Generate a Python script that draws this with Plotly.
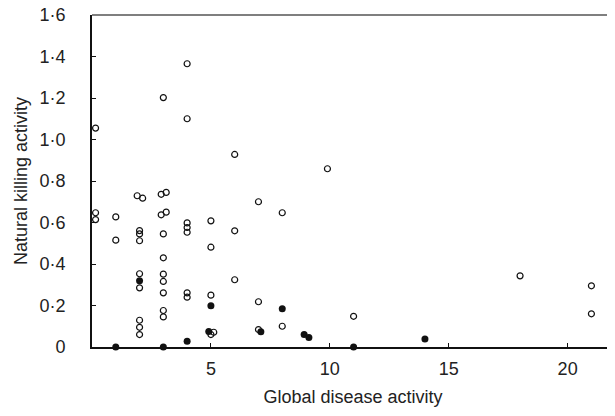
import plotly.graph_objects as go

# Open circles
open_x = [0.15, 0.15, 0.15,
          1, 1,
          1.9, 2.13, 2, 2, 2, 2, 2, 2, 2, 2,
          2.91, 3.12, 2.91, 3.12, 3, 3, 3, 3, 3, 3, 3, 3,
          4, 4, 4, 4, 4, 4, 4,
          5, 5, 5, 5, 5.12,
          6, 6, 6,
          7, 7, 7,
          8, 8,
          9.9, 11, 18, 21, 21]
open_y = [1.055, 0.647, 0.614,
          0.627, 0.515,
          0.729, 0.717, 0.561, 0.545, 0.512, 0.353, 0.285, 0.129, 0.095, 0.060,
          0.736, 0.745, 0.637, 0.650, 0.545, 0.430, 0.351, 0.316, 0.261, 0.176, 0.145, 1.202,
          1.365, 1.10, 0.598, 0.576, 0.553, 0.261, 0.240,
          0.608, 0.481, 0.250, 0.060, 0.071,
          0.928, 0.560, 0.324,
          0.70, 0.218, 0.084,
          0.647, 0.10,
          0.859, 0.148, 0.343, 0.295, 0.160]

# Filled circles
fill_x = [1, 2, 3, 4, 5, 4.91, 7.1, 8, 8.92, 9.12, 11, 14]
fill_y = [0.0, 0.319, 0.0, 0.028, 0.199, 0.075, 0.073, 0.184, 0.060, 0.046, 0.0, 0.038]

y_ticks = [0, 0.2, 0.4, 0.6, 0.8, 1.0, 1.2, 1.4, 1.6]
y_labels = ["0", "0·2", "0·4", "0·6", "0·8",
            "1·0", "1·2", "1·4", "1·6"]
x_ticks = [5, 10, 15, 20]
x_labels = ["5", "10", "15", "20"]
x_title = "Global disease activity"
y_title = "Natural killing activity"

fig = go.Figure()
fig.add_trace(go.Scatter(x=open_x, y=open_y, mode="markers",
                         marker=dict(symbol="circle-open", size=6, color="#111",
                                     line=dict(width=1.2, color="#111")),
                         cliponaxis=False, showlegend=False))
fig.add_trace(go.Scatter(x=fill_x, y=fill_y, mode="markers",
                         marker=dict(symbol="circle", size=7, color="#111"),
                         cliponaxis=False, showlegend=False))

# page body has an 8px margin, so the figure is offset by 8px
fig.update_layout(
    width=607, height=408,
    margin=dict(l=84, r=1, t=7, b=69),
    paper_bgcolor="white", plot_bgcolor="white",
    font=dict(family="Liberation Sans, Arial, sans-serif", size=18, color="#222"),
    xaxis=dict(range=[0, 21.95], tickvals=x_ticks, ticktext=x_labels,
               showgrid=False, zeroline=False, showline=True, linecolor="#111",
               linewidth=1.5, ticks="inside", ticklen=4, tickcolor="#111",
               automargin=False, ticklabeloverflow="allow",
               ticklabelstandoff=5,
               title=dict(text=x_title, standoff=12, font=dict(size=18)),
               tickfont=dict(size=18)),
    yaxis=dict(range=[0, 1.6], tickvals=y_ticks, ticktext=y_labels,
               showgrid=False, zeroline=False, showline=True, linecolor="#111",
               linewidth=2, ticks="inside", ticklen=4, tickcolor="#111",
               ticklabelstandoff=21, automargin=False, ticklabeloverflow="allow",
               tickfont=dict(size=18)),
    annotations=[dict(text=y_title, xref="paper", yref="paper", x=0, y=0.5,
                      xshift=-71, textangle=-90, showarrow=False,
                      xanchor="center", yanchor="middle",
                      font=dict(size=18, color="#222"))],
    shapes=[
        dict(type="line", xref="paper", yref="paper", x0=0, x1=1, y0=1, y1=1,
             layer="above", line=dict(color="#555", width=1.5)),
        dict(type="line", xref="paper", yref="paper", x0=1, x1=1, y0=0, y1=1,
             layer="above", line=dict(color="#555", width=1.5)),
    ],
)

fig.write_html("out.html")
